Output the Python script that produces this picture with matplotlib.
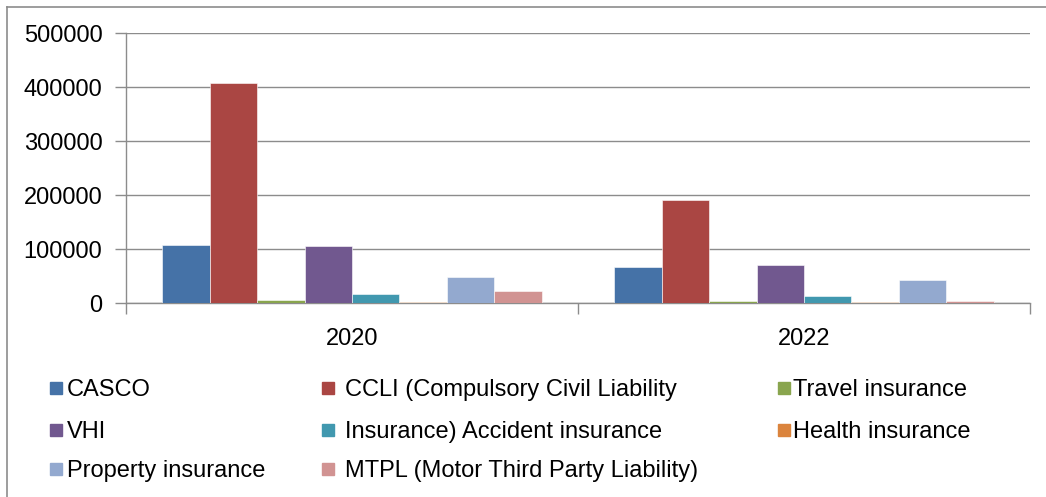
import numpy as np
import matplotlib.pyplot as plt
from matplotlib.patches import Rectangle
from matplotlib.lines import Line2D

plt.rcParams['font.family'] = ['Liberation Sans', 'DejaVu Sans']

years = ['2020', '2022']
series = ['CASCO', 'CCLI (Compulsory Civil Liability', 'Travel insurance',
          'VHI', 'Insurance) Accident insurance', 'Health insurance',
          'Property insurance', 'MTPL (Motor Third Party Liability)']
values = [
    [107000, 67000],
    [407000, 190500],
    [5500, 4000],
    [105500, 70000],
    [16500, 13000],
    [2000, 1500],
    [48000, 43000],
    [22000, 4300],
]
colors = ['#4572A7', '#AA4643', '#89A54E', '#71588F', '#4198AF', '#DB843D', '#93A9CF', '#D19392']

fig = plt.figure(figsize=(10.46, 4.97), dpi=100)
ax = fig.add_axes([126/1046, 1-303/497, 904/1046, 270/497])

x = np.arange(len(years))
w = 0.105
start = -w * len(series) / 2
for i, (name, vals) in enumerate(zip(series, values)):
    ax.bar(x + start + i*w, vals, width=w, align='edge', color=colors[i],
           edgecolor='white', linewidth=0.4, zorder=3)

ax.set_xlim(-0.5, 1.5)
ax.set_ylim(0, 500000)
ax.set_yticks(range(0, 500001, 100000))
ax.set_yticklabels([str(v) for v in range(0, 500001, 100000)], fontsize=17)
ax.yaxis.grid(True, color='#8c8c8c', linewidth=1, zorder=0)
ax.set_xticks(x)
ax.set_xticklabels(years, fontsize=17)
ax.set_xticks([-0.5, 0.5, 1.5], minor=True)
ax.tick_params(axis='x', which='major', length=0, pad=18)
ax.tick_params(axis='x', which='minor', length=8, color='#8c8c8c', width=1)
ax.tick_params(axis='y', length=8, color='#8c8c8c', width=1, pad=9)
for s in ['top', 'right']:
    ax.spines[s].set_visible(False)
for s in ['left', 'bottom']:
    ax.spines[s].set_color('#8c8c8c')
    ax.spines[s].set_linewidth(1)

# legend laid out like the original (3 columns)
col_marker = [50, 322, 778]
col_text = [67, 345, 793]
row_y = [388, 430, 469]
for i, name in enumerate(series):
    r, c = divmod(i, 3)
    yy = 1 - row_y[r]/497
    fig.patches.append(Rectangle((col_marker[c]/1046, yy - 6/497), 12/1046, 12/497,
                                 transform=fig.transFigure, color=colors[i]))
    fig.text(col_text[c]/1046, yy - 8/497, name, fontsize=17, va='baseline', ha='left')

# outer border
fig.add_artist(Line2D([7/1046, 7/1046], [0, 1-7/497], color='#8c8c8c', linewidth=1.2))
fig.add_artist(Line2D([7/1046, 1], [1-7/497, 1-7/497], color='#8c8c8c', linewidth=1.2))

fig.savefig('out.png', dpi=100)
